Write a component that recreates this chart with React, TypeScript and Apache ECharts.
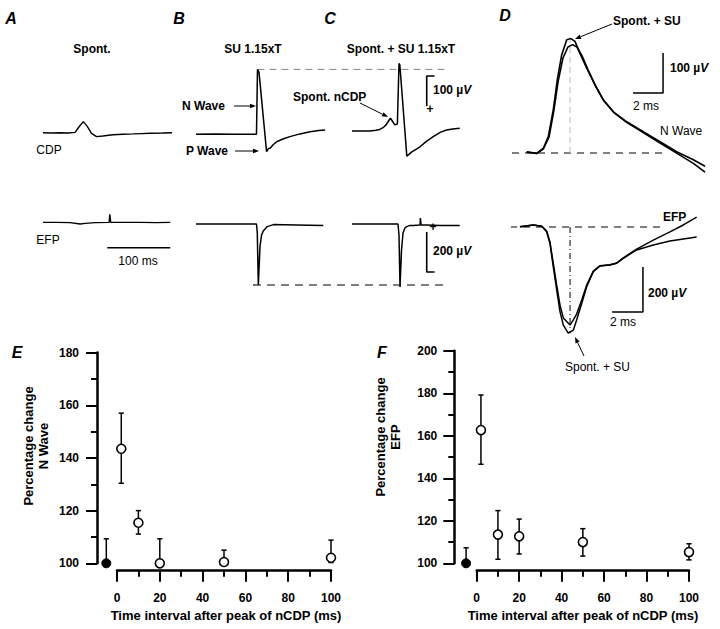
import React, { useEffect, useRef } from "react";
import * as echarts from "echarts";

type Pt = [number, number];

// ---------- Panels A–C : time from sweep start (ms), potential (µV) ----------
const cdpSpont: Pt[] = [[0,1],[14,0],[27,1],[40,0],[51,2],[57,20],[64,38],[70,23],[77,-1],[85,-12],[95,-10],[111,-6],[127,-4],[143,-3],[157,-2],[170,-1],[190,0],[205,1]];
const efpSpont: Pt[] = [[0,3],[20,3],[43,2],[59,-5],[67,-2],[83,2],[105,3],[106,43],[107.5,3],[130,3],[154,3],[180,2],[202,3]];
const cdpSU: Pt[] = [[0,-4],[30,-3],[60,-4],[96,-4],[97.6,212],[100,203],[112,-62],[115,-52],[118,-50],[122,-40],[128,-29],[138,-20],[149,-12],[165,-3],[181,4],[195,8],[205,10]];
const efpSU: Pt[] = [[0,-5],[50,-5],[96,-5],[97.3,-50],[98.9,-310],[101.6,-118],[104,-60],[106.8,-40],[113,-18],[123,-8],[140,-9],[160,-10],[180,-11],[202,-13]];
const cdpSpontSU: Pt[] = [[0,7],[15,7],[28,7],[38,9],[44,12],[50,19],[54,27],[58,40],[61,49],[64,40],[68,27],[72,30],[74.6,232],[76,226],[87,-77],[95,-63],[108,-46],[118,-28],[129,-12],[140,2],[150,10],[160,13],[171,16]];
const efpSpontSU: Pt[] = [[0,-5],[40,-5],[73,-5],[74.6,-60],[76.2,-320],[78.6,-135],[81,-50],[84,-25],[86.8,-18],[92,-12],[97,-12],[108,-10],[108.6,25],[109.6,-10],[119,-10],[140,-12],[171,-13]];

// reference / scale lines for A–C
const suPeakLevel: Pt[] = [[97.6,212],[398,212]];
const efpPeakLevel: Pt[] = [[90.5,-310],[392,-310]];
const timeBar100ms: Pt[] = [[102,-123.5],[202,-123.5]];
const cdpBar100uV: Pt[] = [[131,190],[118.6,190],[118.6,90]];
const efpBar200uV: Pt[] = [[118.6,-45],[118.6,-245],[131,-245]];

// ---------- Panel D : time (ms), potential (µV) ----------
const dNWaveSpontSU: Pt[] = [[0.98,3],[1.65,-1],[2.09,12],[2.42,41],[2.75,108],[3.02,183],[3.31,245],[3.65,283],[3.93,286],[4.2,279],[4.53,249],[4.98,212],[5.53,170],[6.09,133],[6.75,103],[7.65,78],[8.75,53],[9.87,28],[10.98,3],[12.09,-17],[12.87,-33]];
const dNWaveSU: Pt[] = [[0.98,2],[1.65,-1],[2.09,10],[2.47,40],[2.8,108],[3.07,178],[3.4,238],[3.73,265],[4.03,271],[4.33,265],[4.67,243],[5.07,208],[5.6,166],[6.13,130],[6.8,101],[7.67,76],[8.8,50],[9.87,25],[11,-1],[12.09,-26],[12.87,-48]];
const dEfpSpontSU: Pt[] = [[0.53,1],[1.42,9],[1.98,3],[2.31,-21],[2.53,-72],[2.75,-176],[2.98,-280],[3.2,-376],[3.42,-436],[3.75,-472],[4.09,-458],[4.31,-413],[4.65,-339],[4.98,-265],[5.42,-199],[5.87,-173],[6.53,-169],[6.98,-161],[7.42,-139],[8.31,-102],[9.42,-80],[10.53,-62],[11.42,-53],[12.31,-44]];
const dEfpSU: Pt[] = [[0.53,1],[1.42,9],[1.98,3],[2.31,-18],[2.53,-67],[2.75,-160],[2.98,-258],[3.2,-347],[3.42,-404],[3.87,-436],[4.09,-413],[4.31,-387],[4.65,-324],[4.98,-258],[5.42,-196],[5.87,-172],[6.53,-168],[6.98,-160],[7.42,-137],[8.31,-98],[9.42,-58],[10.53,-22],[11.42,9],[12.31,44]];
const dNBaseline: Pt[] = [[0,0],[10.07,0]];
const dNPeakMarker: Pt[] = [[3.87,0],[3.87,286]];
const dNScaleBar: Pt[] = [[8.07,150],[10.07,150],[10.07,250]];
const dEBaseline: Pt[] = [[-0.13,0],[9.87,0]];
const dETroughMarker: Pt[] = [[3.87,0],[3.87,-472]];
const dEScaleBar: Pt[] = [[6.67,-377.8],[8.73,-377.8],[8.73,-177.8]];

// ---------- Panels E, F ----------
const intervals = [-5, 2, 10, 20, 50, 100];
const nWaveMean = [100, 143.5, 115.4, 100, 100.5, 102.1];
const nWaveUpper = [109.3, 157, 120, 109.3, 105, 108.8];
const nWaveLower = [100, 130.4, 111.1, 100, 100.5, 100.3];
const efpMean = [100, 162.7, 113.5, 112.7, 110, 105.3];
const efpUpper = [107.3, 179.2, 124.8, 120.8, 116.3, 109.2];
const efpLower = [100, 146.6, 101.9, 104.4, 103.4, 101.6];

const FONT = "'Liberation Sans', Arial, Helvetica, sans-serif";

interface Frame { left: number; top: number; width: number; height: number; pxX: number; zeroY: number; pxY: number }
const frames: Frame[] = [
  { left: 43, top: 30, width: 150, height: 160, pxX: 0.63, zeroY: 133, pxY: 0.3 },
  { left: 43, top: 190, width: 150, height: 140, pxX: 0.63, zeroY: 223, pxY: 0.2 },
  { left: 196, top: 30, width: 270, height: 160, pxX: 0.63, zeroY: 133, pxY: 0.3 },
  { left: 196, top: 190, width: 270, height: 140, pxX: 0.63, zeroY: 223, pxY: 0.2 },
  { left: 352, top: 30, width: 120, height: 160, pxX: 0.63, zeroY: 133, pxY: 0.3 },
  { left: 352, top: 190, width: 120, height: 140, pxX: 0.63, zeroY: 223, pxY: 0.2 },
  { left: 512, top: 20, width: 200, height: 170, pxX: 15, zeroY: 153, pxY: 0.4 },
  { left: 512, top: 200, width: 200, height: 150, pxX: 15, zeroY: 227, pxY: 0.225 },
];

function trace(idx: number, data: Pt[], width = 1.4, color = "#000", type: any = "solid", z = 3) {
  return {
    type: "line", xAxisIndex: idx, yAxisIndex: idx, data, symbol: "none", showSymbol: false,
    clip: false, silent: true, lineStyle: { color, width, type, opacity: 1 }, z,
  };
}

function txt(text: string, x: number, y: number, align = "left", weight = "bold", size = 12, extra: any = {}) {
  return {
    type: "text", x, y, silent: true,
    style: {
      text, fill: "#000", fontFamily: FONT, fontWeight: weight, fontSize: size,
      align, textAlign: align, verticalAlign: "middle", textVerticalAlign: "middle", ...extra,
    },
  };
}

function uvText(num: string, x: number, y: number) {
  return txt(num + " µ{v|V}", x, y, "left", "bold", 12, {
    rich: { v: { fontStyle: "italic", fontWeight: "bold", fontSize: 12, fontFamily: FONT, fill: "#000" } },
  });
}

function arrow(x1: number, y1: number, x2: number, y2: number, head = 6, w = 2.3) {
  const a = Math.atan2(y2 - y1, x2 - x1);
  const bx = x2 - head * Math.cos(a), by = y2 - head * Math.sin(a);
  const px = -Math.sin(a) * w, py = Math.cos(a) * w;
  return [
    { type: "line", silent: true, shape: { x1, y1, x2: bx, y2: by }, style: { stroke: "#000", lineWidth: 1 } },
    { type: "polygon", silent: true, shape: { points: [[x2, y2], [bx + px, by + py], [bx - px, by - py]] }, style: { fill: "#000" } },
  ];
}

const statAxis = {
  axisLine: { show: true, onZero: false, lineStyle: { color: "#000", width: 2.5 } },
  axisTick: { show: true, length: 11, lineStyle: { color: "#000", width: 2 } },
  minorTick: { show: true, splitNumber: 2, length: 6, lineStyle: { color: "#000", width: 2 } },
  splitLine: { show: false },
  minorSplitLine: { show: false },
};
const statLabel = { color: "#000", fontFamily: FONT, fontWeight: "bold", fontSize: 12 };

function errorBars(idx: number, mean: number[], lower: number[], upper: number[]) {
  return {
    type: "custom", xAxisIndex: idx, yAxisIndex: idx, clip: false, silent: true, z: 1,
    data: intervals.map((x, i) => [x, mean[i], lower[i], upper[i]]),
    encode: { x: 0, y: 1 },
    renderItem: (_p: any, api: any) => {
      const x = api.value(0), m = api.value(1), lo = api.value(2), hi = api.value(3);
      const top = api.coord([x, hi]);
      const bot = api.coord([x, lo]);
      const cw = 2.6;
      const st = { stroke: "#000", lineWidth: 1.5 };
      const children: any[] = [
        { type: "line", shape: { x1: top[0], y1: top[1], x2: bot[0], y2: bot[1] }, style: st },
        { type: "line", shape: { x1: top[0] - cw, y1: top[1], x2: top[0] + cw, y2: top[1] }, style: st },
      ];
      if (lo < m - 0.5) children.push({ type: "line", shape: { x1: bot[0] - cw, y1: bot[1], x2: bot[0] + cw, y2: bot[1] }, style: st });
      return { type: "group", children };
    },
  };
}

function points(idx: number, mean: number[]) {
  return [
    {
      type: "scatter", xAxisIndex: idx, yAxisIndex: idx, clip: false, silent: true, z: 3, symbol: "circle", symbolSize: 9,
      data: intervals.slice(1).map((x, i) => [x, mean[i + 1]]),
      itemStyle: { color: "#fff", borderColor: "#000", borderWidth: 1.6, opacity: 1 },
      emphasis: { disabled: true },
    },
    {
      type: "scatter", xAxisIndex: idx, yAxisIndex: idx, clip: false, silent: true, z: 3, symbol: "circle", symbolSize: 9,
      data: [[intervals[0], mean[0]]],
      itemStyle: { color: "#000", borderColor: "#000", borderWidth: 1, opacity: 1 },
      emphasis: { disabled: true },
    },
  ];
}

function buildOption() {
  const E = 8, F = 9;
  const grid: any[] = frames.map((f) => ({ left: f.left, top: f.top, width: f.width, height: f.height }));
  grid.push({ left: 117, top: 352.6, width: 214, height: 210.7 });
  grid.push({ left: 476.7, top: 350.8, width: 212.3, height: 212.5 });

  const xAxis: any[] = frames.map((f, i) => ({ type: "value", gridIndex: i, min: 0, max: f.width / f.pxX, show: false }));
  const yAxis: any[] = frames.map((f, i) => ({
    type: "value", gridIndex: i, show: false,
    min: (f.zeroY - (f.top + f.height)) / f.pxY, max: (f.zeroY - f.top) / f.pxY,
  }));
  xAxis.push({ type: "value", gridIndex: E, min: 0, max: 100, interval: 20, offset: 7.4, position: "bottom", ...statAxis, axisLabel: { ...statLabel, margin: 21 } });
  xAxis.push({ type: "value", gridIndex: F, min: 0, max: 100, interval: 20, offset: 7.4, position: "bottom", ...statAxis, axisLabel: { ...statLabel, margin: 21 } });
  yAxis.push({ type: "value", gridIndex: E, min: 100, max: 180, interval: 20, offset: 20, position: "left", ...statAxis, axisLabel: { ...statLabel, margin: 18 } });
  yAxis.push({ type: "value", gridIndex: F, min: 100, max: 200, interval: 20, offset: 22.4, position: "left", ...statAxis, axisLabel: { ...statLabel, margin: 17 } });

  const series: any[] = [
    trace(0, cdpSpont), trace(1, efpSpont), trace(1, timeBar100ms, 1.6),
    trace(2, cdpSU, 1.5), trace(3, efpSU, 1.5),
    trace(2, suPeakLevel, 1, "#888", [7, 5], 2), trace(3, efpPeakLevel, 1.2, "#000", [8, 6], 2),
    trace(4, cdpSpontSU, 1.5), trace(5, efpSpontSU, 1.5),
    trace(4, cdpBar100uV, 1.6), trace(5, efpBar200uV, 1.6),
    trace(6, dNBaseline, 1, "#000", [7, 6], 2), trace(6, dNPeakMarker, 1, "#bbb", [6, 4], 2),
    trace(6, dNWaveSpontSU, 1.6), trace(6, dNWaveSU, 1.6), trace(6, dNScaleBar, 1.5),
    trace(7, dEBaseline, 1, "#000", [7, 6], 2), trace(7, dETroughMarker, 1, "#000", [6, 3, 1, 3], 2),
    trace(7, dEfpSpontSU, 1.5), trace(7, dEfpSU, 1.5), trace(7, dEScaleBar, 1.5),
    errorBars(E, nWaveMean, nWaveLower, nWaveUpper), ...points(E, nWaveMean),
    errorBars(F, efpMean, efpLower, efpUpper), ...points(F, efpMean),
  ];

  const letter = (t: string, x: number, y: number) =>
    txt(t, x, y, "center", "bold", 16, { fontStyle: "italic" });

  const yTitleE = txt("Percentage change\nN Wave", 36, 446, "center", "bold", 13, { lineHeight: 15 });
  const yTitleF = txt("Percentage change\nEFP", 388, 437, "center", "bold", 13, { lineHeight: 15 });
  (yTitleE as any).rotation = Math.PI / 2;
  (yTitleF as any).rotation = Math.PI / 2;

  const elements: any[] = [
    letter("A", 11, 18), letter("B", 179, 18), letter("C", 330, 18), letter("D", 505, 15),
    letter("E", 17, 352), letter("F", 382, 352),
    txt("Spont.", 92, 49, "center"),
    txt("SU 1.15xT", 253, 49, "center"),
    txt("Spont. + SU 1.15xT", 401, 49, "center"),
    txt("CDP", 49, 150, "center", "normal"),
    txt("EFP", 48, 240, "center", "normal"),
    txt("100 ms", 138, 261, "center", "normal"),
    txt("N Wave", 182, 106), ...arrow(234, 106, 256, 106),
    txt("P Wave", 186, 151), ...arrow(235, 151, 259, 151),
    txt("Spont. nCDP", 293, 97), ...arrow(360, 103, 388, 117),
    uvText("100", 433, 90), txt("+", 430, 109, "center"),
    txt("+", 433, 227, "center"), uvText("200", 433, 251),
    txt("Spont. + SU", 613, 21), ...arrow(612, 24, 575, 39),
    uvText("100", 670, 68), txt("2 ms", 633, 106, "left", "normal"),
    txt("N Wave", 660, 131, "left", "normal"),
    txt("EFP", 663, 217),
    uvText("200", 648, 293), txt("2 ms", 610, 322, "left", "normal"),
    txt("Spont. + SU", 565, 367, "left", "normal"), ...arrow(584, 356, 575, 337),
    yTitleE, yTitleF,
    txt("Time interval after peak of nCDP (ms)", 226, 615, "center", "bold", 13),
    txt("Time interval after peak of nCDP (ms)", 583, 615, "center", "bold", 13),
  ];

  return {
    animation: false,
    backgroundColor: "#fff",
    grid, xAxis, yAxis, series,
    graphic: { elements },
  };
}

export default function App() {
  const ref = useRef<HTMLDivElement>(null);
  useEffect(() => {
    if (!ref.current) return;
    const chart = echarts.init(ref.current, null, { renderer: "svg" });
    chart.setOption(buildOption() as any);
    return () => chart.dispose();
  }, []);
  return (
    <div
      ref={ref}
      style={{ position: "fixed", left: 0, top: 0, width: 720, height: 629, background: "#fff" }}
    />
  );
}
